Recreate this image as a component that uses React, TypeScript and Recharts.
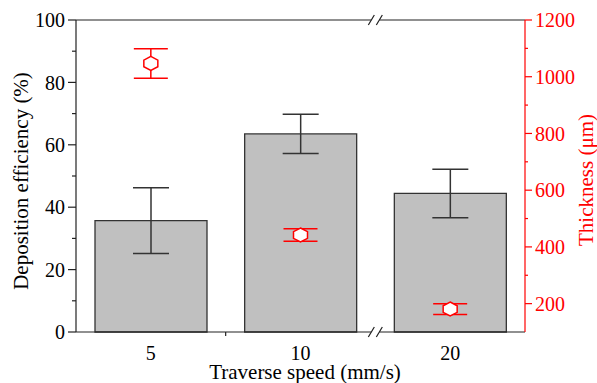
import React from 'react';
import {
  ComposedChart,
  Bar,
  Scatter,
  XAxis,
  YAxis,
  ErrorBar,
  ReferenceLine,
  ReferenceDot,
  Label,
} from 'recharts';

// traverse speed categories (mm/s)
const speeds = [5, 10, 20];
// deposition efficiency (%) and its error
const efficiency = [35.7, 63.5, 44.4];
const efficiencyErr = [10.5, 6.3, 7.8];
// coating thickness (um) and its error
const thickness = [1047, 442, 181];
const thicknessErr = [52, 22, 19];

const xTicks = [1, 1.5, 2, 3];
const leftTicks = [0, 10, 20, 30, 40, 50, 60, 70, 80, 90, 100];
const rightTicks = [200, 300, 400, 500, 600, 700, 800, 900, 1000, 1100, 1200];

const data = speeds.map((s, i) => ({
  pos: i + 1,
  speed: s,
  de: efficiency[i],
  deErr: efficiencyErr[i],
  th: thickness[i],
  thErr: thicknessErr[i],
}));

const FONT = '"Liberation Serif", "Times New Roman", serif';
const AXIS = '#222';
const RED = '#ff0000';
const txt = { fontFamily: FONT };

const XTick = (props: any) => {
  const { x, y, payload } = props;
  const v = payload.value;
  if (Number.isInteger(v)) {
    return (
      <text x={x} y={y} dy={24} textAnchor="middle" fontSize={20} fill="#000" style={txt}>
        {speeds[v - 1]}
      </text>
    );
  }
  return <line x1={x} x2={x} y1={y - 4} y2={y} stroke={AXIS} strokeWidth={1.2} />;
};

const LeftTick = (props: any) => {
  const { x, y, payload } = props;
  const v = payload.value;
  const major = v % 20 === 0;
  return (
    <g>
      <line x1={major ? x + 3 : x + 7} x2={x + 11} y1={y} y2={y} stroke={AXIS} strokeWidth={1.2} />
      {major && (
        <text x={x} y={y} dy="0.36em" textAnchor="end" fontSize={20} fill="#000" style={txt}>
          {v}
        </text>
      )}
    </g>
  );
};

const RightTick = (props: any) => {
  const { x, y, payload } = props;
  const v = payload.value;
  const major = v % 200 === 0;
  return (
    <g>
      <line x1={x - 10} x2={major ? x - 3 : x - 7} y1={y} y2={y} stroke={RED} strokeWidth={1.2} />
      {major && (
        <text x={x} y={y} dy="0.36em" textAnchor="start" fontSize={20} fill={RED} style={txt}>
          {v}
        </text>
      )}
    </g>
  );
};

const Hexagon = (props: any) => {
  const { cx, cy } = props;
  if (cx == null || cy == null) return null;
  const pts = [
    [0, -7],
    [7, -3.3],
    [7, 3.3],
    [0, 7],
    [-7, 3.3],
    [-7, -3.3],
  ]
    .map(([dx, dy]) => `${cx + dx},${cy + dy}`)
    .join(' ');
  return <polygon points={pts} fill="#fff" stroke={RED} strokeWidth={1.5} />;
};

const AxisBreak = (props: any) => {
  const { cx, cy } = props;
  if (cx == null || cy == null) return null;
  return (
    <g>
      <line x1={cx - 4} x2={cx + 4} y1={cy} y2={cy} stroke="#fff" strokeWidth={4} />
      <line x1={cx - 7} y1={cy + 5} x2={cx - 1} y2={cy - 5} stroke={AXIS} strokeWidth={1.2} />
      <line x1={cx + 1} y1={cy + 5} x2={cx + 7} y2={cy - 5} stroke={AXIS} strokeWidth={1.2} />
    </g>
  );
};

export default function App() {
  return (
    <div style={{ position: 'absolute', left: 0, top: 0, fontFamily: FONT, background: '#fff' }}>
      <ComposedChart
        width={597}
        height={383}
        data={data}
        margin={{ top: 20, right: 0, bottom: 0, left: 0 }}
      >
        <XAxis
          dataKey="pos"
          type="number"
          domain={[0.5, 3.5]}
          ticks={xTicks}
          interval={0}
          height={51}
          tickSize={4}
          tickMargin={0}
          tickLine={false}
          axisLine={{ stroke: AXIS, strokeWidth: 1.2 }}
          tick={<XTick />}
        >
          <Label
            content={() => (
              <text x={305} y={379} textAnchor="middle" fontSize={21} fill="#000" style={txt}>
                Traverse speed (mm/s)
              </text>
            )}
          />
        </XAxis>
        <YAxis
          yAxisId="left"
          orientation="left"
          width={76}
          domain={[0, 100]}
          ticks={leftTicks}
          interval={0}
          tickSize={8}
          tickMargin={3}
          tickLine={false}
          axisLine={{ stroke: AXIS, strokeWidth: 1.2 }}
          tick={<LeftTick />}
        >
          <Label
            content={() => (
              <text
                x={21}
                y={181}
                transform="rotate(-90 21 181)"
                textAnchor="middle"
                dominantBaseline="central"
                fontSize={21}
                fill="#000"
                style={txt}
              >
                Deposition efficiency (%)
              </text>
            )}
          />
        </YAxis>
        <YAxis
          yAxisId="right"
          orientation="right"
          dataKey="th"
          width={72}
          domain={[100, 1200]}
          ticks={rightTicks}
          interval={0}
          tickSize={7}
          tickMargin={3}
          tickLine={false}
          axisLine={{ stroke: RED, strokeWidth: 1.2 }}
          tick={<RightTick />}
        >
          <Label
            content={() => (
              <text
                x={586}
                y={180}
                transform="rotate(-90 586 180)"
                textAnchor="middle"
                dominantBaseline="central"
                fontSize={21}
                fill={RED}
                style={txt}
              >
                Thickness (μm)
              </text>
            )}
          />
        </YAxis>
        <ReferenceLine yAxisId="left" y={100} stroke={AXIS} strokeWidth={1.2} />
        <Bar
          yAxisId="left"
          dataKey="de"
          barSize={112}
          fill="#c0c0c0"
          stroke="#333"
          strokeWidth={1.3}
          isAnimationActive={false}
        >
          <ErrorBar dataKey="deErr" width={18} stroke="#333" strokeWidth={1.5} direction="y" />
        </Bar>
        <Scatter
          yAxisId="right"
          dataKey="th"
          shape={<Hexagon />}
          isAnimationActive={false}
        >
          <ErrorBar dataKey="thErr" width={17} stroke={RED} strokeWidth={1.5} direction="y" />
        </Scatter>
        <ReferenceDot yAxisId="left" x={2.5} y={100} r={0} ifOverflow="visible" shape={<AxisBreak />} />
        <ReferenceDot yAxisId="left" x={2.5} y={0} r={0} ifOverflow="visible" shape={<AxisBreak />} />
      </ComposedChart>
    </div>
  );
}
